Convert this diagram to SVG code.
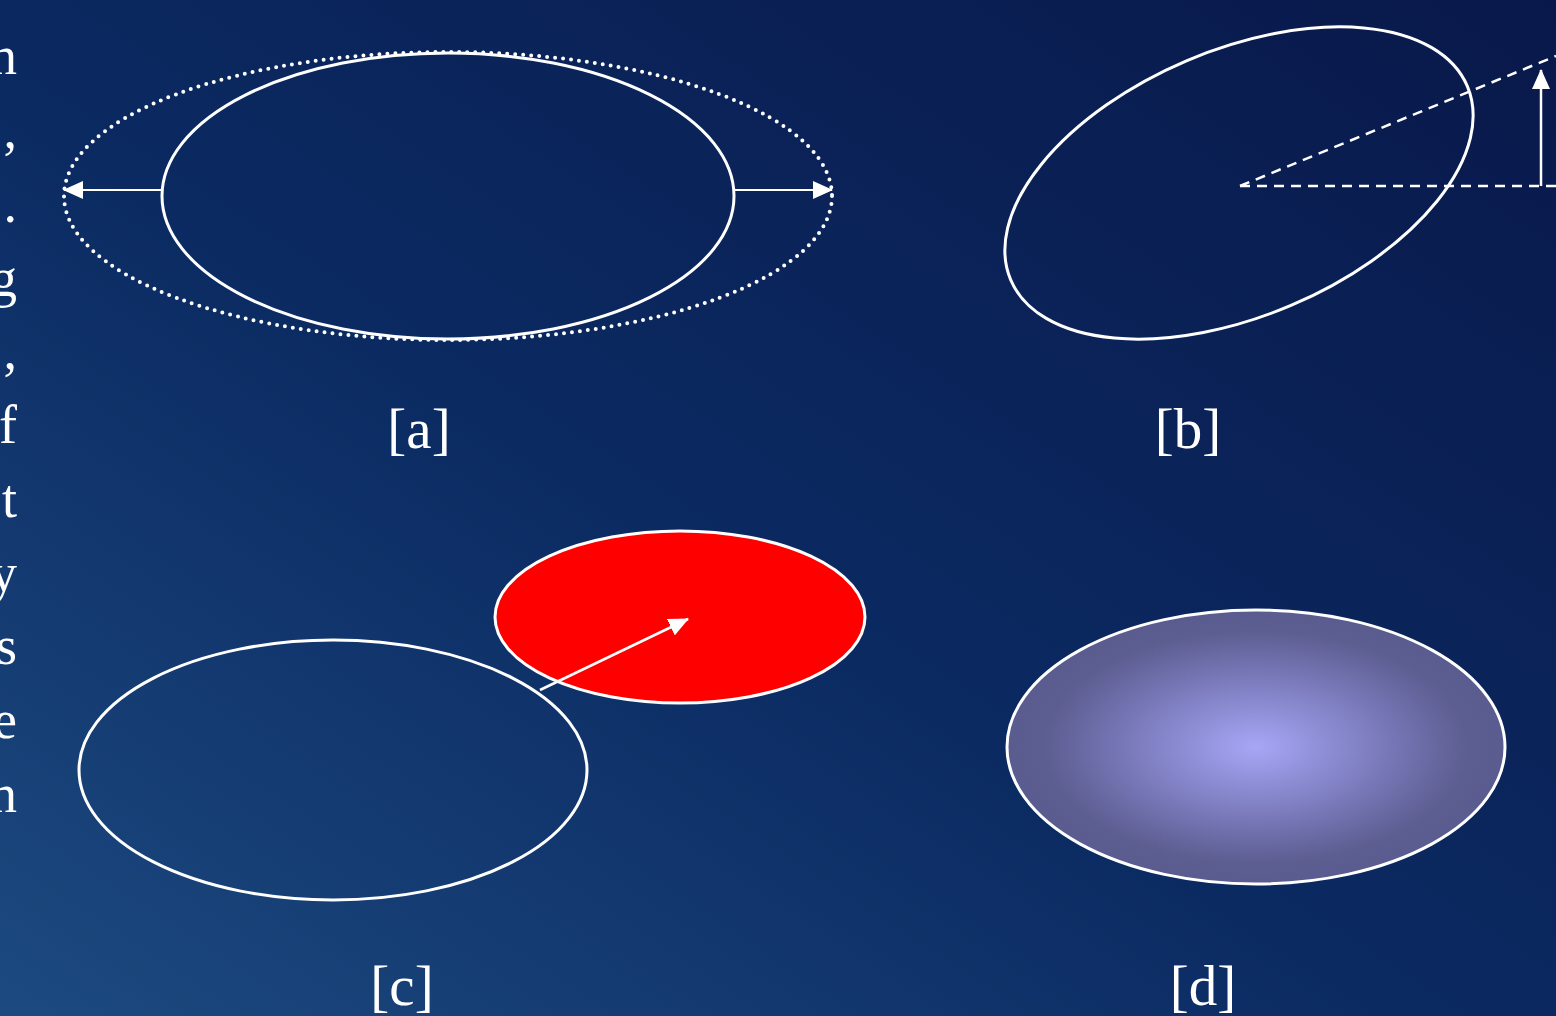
<svg xmlns="http://www.w3.org/2000/svg" width="1556" height="1016" viewBox="0 0 1556 1016">
<style>
.lbl{font-family:"Liberation Serif","Times New Roman",serif;font-size:57px;fill:#ffffff;text-anchor:middle}
.side{font-family:"Liberation Serif","Times New Roman",serif;font-size:54px;fill:#ffffff;text-anchor:end}
.sol{fill:none;stroke:#ffffff;stroke-width:3}
.dash{fill:none;stroke:#ffffff;stroke-width:2.5;stroke-dasharray:10 7}
</style>
<defs>
<linearGradient id="bg" x1="0" y1="1" x2="1" y2="0">
<stop offset="0" stop-color="#1c4a80"/>
<stop offset="0.45" stop-color="#0b2a62"/>
<stop offset="1" stop-color="#09184a"/>
</linearGradient>
<radialGradient id="rg" cx="0.5" cy="0.5" r="0.5">
<stop offset="0" stop-color="#a6a6f6"/>
<stop offset="0.55" stop-color="#7676b6"/>
<stop offset="0.85" stop-color="#5c5d90"/>
<stop offset="1" stop-color="#5a5b8e"/>
</radialGradient>
<marker id="ahb" markerWidth="20" markerHeight="18" refX="19" refY="9" orient="auto" markerUnits="userSpaceOnUse" viewBox="0 0 20 18">
<path d="M0,0 L20,9 L0,18 Z" fill="#ffffff"/>
</marker>
</defs>
<rect width="1556" height="1016" fill="url(#bg)"/>
<g id="side-text">
<text class="side" x="17" y="74">n</text>
<text class="side" x="17" y="148">,</text>
<text class="side" x="17" y="222">.</text>
<text class="side" x="17" y="296">g</text>
<text class="side" x="17" y="369">,</text>
<text class="side" x="17" y="443">f</text>
<text class="side" x="17" y="517">t</text>
<text class="side" x="17" y="591">y</text>
<text class="side" x="17" y="664">s</text>
<text class="side" x="17" y="738">e</text>
<text class="side" x="17" y="812">n</text>
</g>
<g id="node-a">
<ellipse cx="448" cy="196" rx="384" ry="144" fill="none" stroke="#ffffff" stroke-width="4" stroke-linecap="round" stroke-dasharray="0 8"/>
<ellipse class="sol" cx="448" cy="196" rx="286" ry="143"/>
<text class="lbl" x="419" y="448">[a]</text>
</g>
<g id="node-b">
<ellipse class="sol" cx="0" cy="0" rx="248" ry="133" transform="translate(1239 183) rotate(-23)"/>
<text class="lbl" x="1188" y="448">[b]</text>
</g>
<g id="node-c">
<ellipse class="sol" cx="333" cy="770" rx="254" ry="130"/>
<ellipse cx="680" cy="617" rx="185" ry="86" fill="#ff0000" stroke="#ffffff" stroke-width="3"/>
<text class="lbl" x="402" y="1005">[c]</text>
</g>
<g id="node-d">
<ellipse cx="1256" cy="747" rx="249" ry="137" fill="url(#rg)" stroke="#ffffff" stroke-width="3"/>
<text class="lbl" x="1203" y="1005">[d]</text>
</g>
<g id="connectors">
<line x1="162" y1="190" x2="64" y2="190" stroke="#ffffff" stroke-width="2" marker-end="url(#ahb)"/>
<line x1="734" y1="190" x2="832" y2="190" stroke="#ffffff" stroke-width="2" marker-end="url(#ahb)"/>
<line class="dash" x1="1240" y1="186" x2="1556" y2="186"/>
<line class="dash" x1="1240" y1="186" x2="1556" y2="56"/>
<line x1="1541" y1="186" x2="1541" y2="70" stroke="#ffffff" stroke-width="2.5" marker-end="url(#ahb)"/>
<line x1="540" y1="690" x2="688" y2="619" stroke="#ffffff" stroke-width="2.5" marker-end="url(#ahb)"/>
</g>
</svg>
